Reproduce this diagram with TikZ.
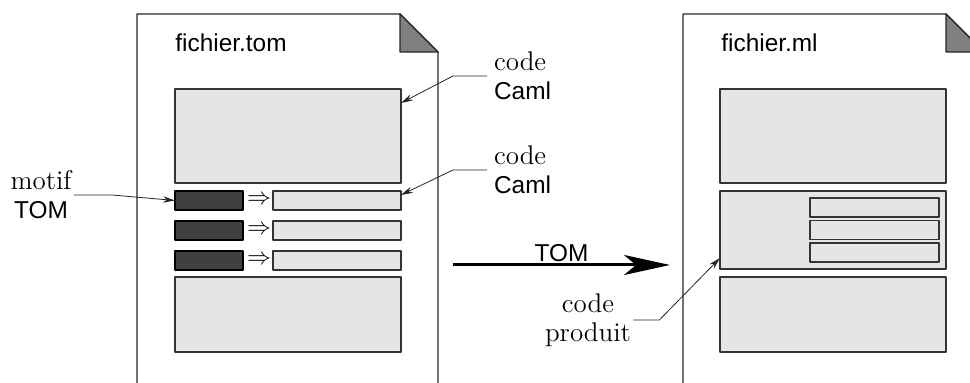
\documentclass[tikz,border=0pt]{standalone}
\usepackage{fontspec}
\setsansfont{Liberation Sans}
\usetikzlibrary{arrows.meta}
\newcommand{\texteSans}{\fontsize{12.2}{14.5}\selectfont\sffamily}
\tikzset{
	page/.style={draw=black!85, line width=0.6pt},
	pli/.style={fill=black!50, draw=black!85, line width=0.6pt},
	zone/.style={draw=black!80, fill=black!10, line width=0.6pt, inner sep=0pt, outer sep=0pt},
	sombre/.style={draw=black, fill=black!75, line width=0.6pt, inner sep=0pt, outer sep=0pt, minimum width=34pt, minimum height=9.5pt},
	titre/.style={font=\texteSans},
	legende/.style={font=\fontsize{13.5}{14.5}\selectfont},
	renvoi/.style={draw=black!85, line width=0.4pt, -{Stealth[length=6pt, width=3.2pt]}},
	transfo/.style={draw=black, line width=1.5pt, -{Stealth[length=23pt, width=10pt, inset=6pt]}}
}
\begin{document}
\begin{tikzpicture}[x=0.5pt, y=-0.5pt, line join=round]
	\useasboundingbox (0,0) rectangle (970,383);
	\clip (0,0) rectangle (970,383);
	% fichier source
	\draw[page] (137,390) -- (137,14) -- (400,14) -- (438,52) -- (438,390);
	\filldraw[pli] (400,14) -- (438,52) -- (400,52) -- cycle;
	\node[titre, anchor=base west, inner sep=0pt] (nomTom) at (175,52) {fichier.tom};
	\node[zone, minimum width=113pt, minimum height=47pt] (hautG) at (288,136) {};
	\foreach \i/\y in {1/200.5, 2/230.5, 3/260.5} {
		\node[sombre] (motif\i) at (209,\y) {};
		\node[zone, minimum width=64pt, minimum height=9.5pt] (action\i) at (337,\y) {};
		\node[font=\fontsize{12.5}{12.5}\selectfont, inner sep=0pt] (impl\i) at (259,\y) {$\Rightarrow$};
	}
	\node[zone, minimum width=113pt, minimum height=37.5pt] (basG) at (288,314.5) {};
	% fichier produit
	\draw[page] (683,390) -- (683,14) -- (946,14) -- (984,52) -- (984,390);
	\filldraw[pli] (946,14) -- (984,52) -- (946,52) -- cycle;
	\node[titre, anchor=base west, inner sep=0pt] (nomMl) at (721,52) {fichier.ml};
	\node[zone, minimum width=113pt, minimum height=47pt] (hautD) at (833,136) {};
	\node[zone, minimum width=113pt, minimum height=39pt] (milieuD) at (833,230) {};
	\foreach \i/\y in {1/207.5, 2/230, 3/252.5}
		\node[zone, minimum width=64.5pt, minimum height=9.5pt] (genere\i) at (874.5,\y) {};
	\node[zone, minimum width=113pt, minimum height=37.5pt] (basD) at (833,314.5) {};
	% legendes
	\node[legende, align=left, anchor=west] (caml1) at (487,76) {code\\{\texteSans Caml}};
	\node[legende, align=left, anchor=west] (caml2) at (487,170) {code\\{\texteSans Caml}};
	\node[legende, align=center, inner sep=1pt] (motifLeg) at (41,195) {motif\\{\texteSans TOM}};
	\node[legende, align=center, inner sep=1pt] (produit) at (588,320) {code\\produit};
	\draw[renvoi] (caml1.west) -- ++(-34,0) -- ([yshift=-7pt]hautG.north east);
	\draw[renvoi] (caml2.west) -- ++(-34,0) -- ([yshift=-2pt]action1.north east);
	\draw[renvoi] (motifLeg.east) -- ++(38,0) -- (motif1.west);
	\draw[renvoi] (produit.east) -- ++(26,0) -- ([yshift=5.5pt]milieuD.south west);
	% transformation
	\coordinate (depart) at (453,265);
	\coordinate (arrivee) at (670,265);
	\draw[transfo] (depart) -- node[titre, above, inner sep=1pt] (tom) {TOM} (arrivee);
\end{tikzpicture}
\end{document}
